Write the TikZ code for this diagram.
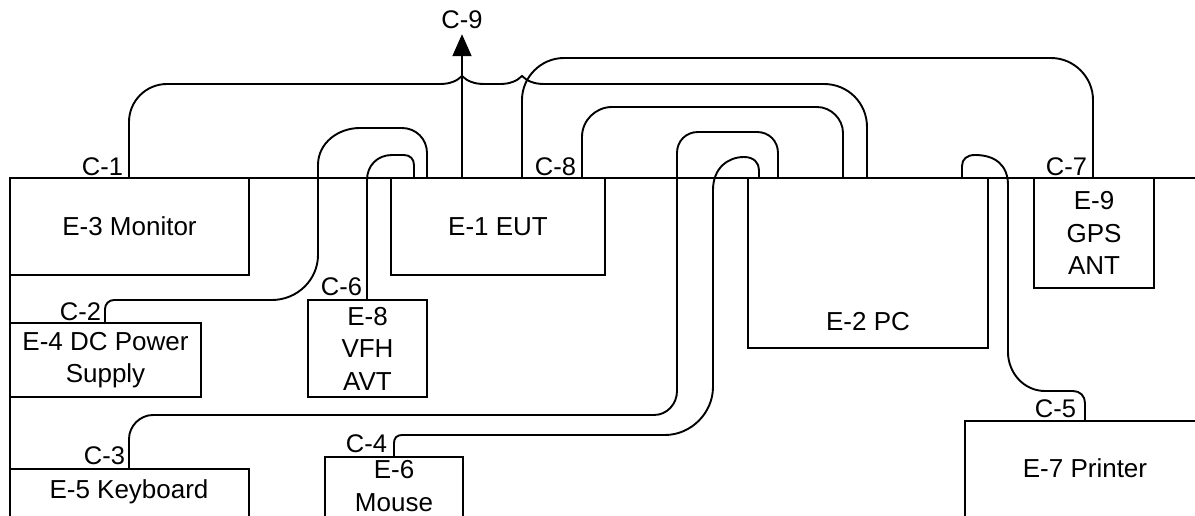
\documentclass[tikz,border=0pt]{standalone}
\usepackage{fontspec}
\setmainfont{Liberation Sans}
\usetikzlibrary{arrows.meta}
\begin{document}
\begin{tikzpicture}[x=1pt,y=-1pt,line width=1.9pt,
  box/.style={draw,rectangle,inner sep=0pt,outer sep=0pt,anchor=north west,
    font=\fontsize{26}{32.5}\selectfont,align=center},
  lbl/.style={font=\fontsize{26}{32.5}\selectfont,inner sep=0pt,align=center},
  tag/.style={font=\fontsize{25.5}{30}\selectfont,inner sep=0pt,anchor=base east},
  cable/.style={draw,line width=1.9pt}]
\path[use as bounding box] (0,0) rectangle (1195,516);
\clip (0,0) rectangle (1195,516);
% table edges
\coordinate (tl) at (10,178);
\coordinate (tr) at (1200,178);
\coordinate (bl) at (10,530);
\draw (tr) -- (tl) -- (bl);
% boxes
\node[box,minimum width=239pt,minimum height=97pt] (mon) at (10,178) {E-3 Monitor};
\node[box,minimum width=214pt,minimum height=97pt] (eut) at (391,178) {E-1 EUT};
\node[box,minimum width=240pt,minimum height=170pt] (pc) at (748,178) {};
\node[box,minimum width=120pt,minimum height=110pt] (gps) at (1034,178) {E-9\\GPS\\ANT};
\node[box,minimum width=191pt,minimum height=74pt] (psu) at (10,323) {E-4 DC Power\\Supply};
\node[box,minimum width=119pt,minimum height=97pt] (vfh) at (308,300) {E-8\\VFH\\AVT};
\node[box,minimum width=239pt,minimum height=80pt] (kbd) at (10,469) {};
\node[box,minimum width=138pt,minimum height=80pt] (mouse) at (325,457) {};
\node[box,minimum width=260pt,minimum height=120pt] (prn) at (965,421) {};
% texts placed off-centre
\node[lbl] (tpc) at (868,322) {E-2 PC};
\node[lbl] (tkbd) at (129,492) {E-5 Keyboard};
\node[lbl] (tmouse) at (394,486) {E-6\\Mouse};
\node[lbl] (tprn) at (1085,468) {E-7 Printer};
% cable tags
\node[tag] (c1) at (124,176) {C-1};
\node[tag] (c2) at (102,320) {C-2};
\node[tag] (c3) at (126,464) {C-3};
\node[tag] (c4) at (388,452) {C-4};
\node[tag] (c5) at (1077,417) {C-5};
\node[tag] (c6) at (363,295) {C-6};
\node[tag] (c7) at (1088,176) {C-7};
\node[tag] (c8) at (577,176) {C-8};
\node[tag,anchor=base] (c9) at (462,29) {C-9};
% C-9
\draw[-{Triangle[length=22pt,width=19pt]}] (462,0 |- eut.north) -- ([yshift=-4pt]c9.south);
% C-1 monitor -> PC
\draw[cable] (129,0 |- mon.north) -- (129,122) .. controls (129,101) and (146,84) .. (167,84)
  -- (440,84) .. controls (450,84) and (457,81) .. (462,76) .. controls (467,81) and (474,84) .. (484,84)
  -- (500,84) .. controls (510,84) and (517,81) .. (522,76) .. controls (527,81) and (534,84) .. (544,84)
  -- (824,84) .. controls (848,84) and (867,103) .. (867,127) -- (867,0 |- pc.north);
% C-7 EUT -> GPS
\draw[cable] (522,0 |- eut.north) -- (522,100) .. controls (522,77) and (541,58) .. (564,58)
  -- (1051,58) .. controls (1074,58) and (1093,77) .. (1093,100) -- (1093,0 |- gps.north);
% C-8 EUT -> PC
\draw[cable] (582,0 |- eut.north) -- (582,137) .. controls (582,120) and (596,107) .. (612,107)
  -- (817,107) .. controls (831,107) and (843,119) .. (843,133) -- (843,0 |- pc.north);
% C-3 keyboard -> PC
\draw[cable] (129,0 |- kbd.north) -- (129,439) .. controls (129,426) and (140,415) .. (153,415)
  -- (654,415) .. controls (667,415) and (677,404) .. (677,391)
  -- (677,153) .. controls (677,141) and (686,132) .. (698,132)
  -- (757,132) .. controls (769,132) and (778,141) .. (778,153) -- (778,0 |- pc.north);
% C-4 mouse -> PC
\draw[cable] (394,0 |- mouse.north) -- (394,443) .. controls (394,438) and (397,435) .. (402,435)
  -- (665,435) .. controls (691,435) and (713,413) .. (713,387)
  -- (713,190) .. controls (713,168) and (728,157) .. (744,157)
  .. controls (754,157) and (759,163) .. (759,170) -- (759,0 |- pc.north);
% C-2 power supply -> EUT
\draw[cable] (105,0 |- psu.north) -- (105,309) .. controls (105,304) and (109,300) .. (114,300)
  -- (272,300) .. controls (297,300) and (318,280) .. (318,255)
  -- (318,165) .. controls (318,143) and (338,128) .. (360,128)
  -- (402,128) .. controls (416,128) and (427,139) .. (427,153) -- (427,0 |- eut.north);
% C-6 VFH -> EUT
\draw[cable] (367,0 |- vfh.north) -- (367,180) .. controls (367,166) and (377,155) .. (392,155)
  -- (404,155) .. controls (410,155) and (414,159) .. (414,165) -- (414,0 |- eut.north);
% C-5 PC -> printer
\draw[cable] (962,0 |- pc.north) -- (962,166) .. controls (962,159) and (967,155) .. (975,155)
  .. controls (995,155) and (1008,165) .. (1008,185)
  -- (1008,352) .. controls (1008,373) and (1024,391) .. (1045,391)
  -- (1073,391) .. controls (1080,391) and (1085,396) .. (1085,403) -- (1085,0 |- prn.north);
\end{tikzpicture}
\end{document}
